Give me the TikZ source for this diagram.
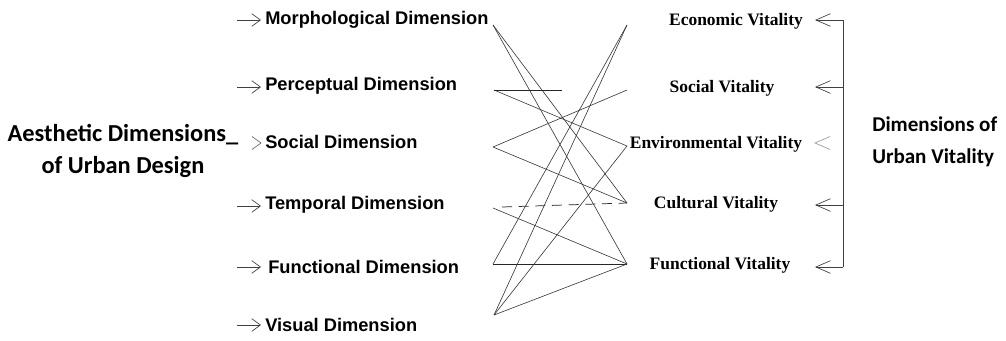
\documentclass[tikz,border=0pt]{standalone}
\usepackage{fontspec}
\setmainfont{Liberation Serif}
\newfontfamily\lsans{Liberation Sans}
\newfontfamily\calib{Carlito}
\usetikzlibrary{arrows.meta,calc}
\begin{document}
\begin{tikzpicture}[x=0.75pt,y=-0.75pt,
  lbl/.style={font=\lsans\bfseries\fontsize{13.7}{16}\selectfont, anchor=west, inner sep=0pt},
  rlbl/.style={font=\bfseries\fontsize{13.1}{15}\selectfont, inner sep=0pt},
  ttl/.style={font=\calib\bfseries\fontsize{18.3}{24}\selectfont, align=center, inner sep=0pt},
  rttl/.style={font=\calib\bfseries\fontsize{15.8}{24}\selectfont, align=left, anchor=west, inner sep=0pt},
  larr/.style={draw=black!75, line width=0.5pt, -{Straight Barb[length=6.5pt,width=9.5pt,line width=0.5pt]}},
  rarr/.style={draw=black!75, line width=0.5pt, -{Straight Barb[length=11pt,width=9.5pt,line width=0.5pt]}},
  link/.style={draw=black!80, line width=0.45pt},
  dlink/.style={draw=black!85, line width=0.55pt, dash pattern=on 7.5pt off 5pt}
]
\useasboundingbox (0,0) rectangle (1006,340);

% titles
\node[ttl] (aes) at (123,151) {Aesthetic Dimensions\_\\of Urban Design};
\node[rttl] (urb) at (872,142) {Dimensions of\\Urban Vitality};

% left labels
\node[lbl] (morph) at (265,20) {Morphological Dimension};
\node[lbl] (perc)  at (265,86) {Perceptual Dimension};
\node[lbl] (soc)   at (265,142) {Social Dimension};
\node[lbl] (temp)  at (265,205) {Temporal Dimension};
\node[lbl] (func)  at (268,267) {Functional Dimension};
\node[lbl] (vis)   at (265,325) {Visual Dimension};

% left arrows
\coordinate (a1) at (237,20);  \coordinate (h1) at (261,20);
\coordinate (a2) at (237,87);  \coordinate (h2) at (261,87);
\coordinate (a4) at (237,206); \coordinate (h4) at (261,206);
\coordinate (a5) at (237,267); \coordinate (h5) at (261,267);
\coordinate (a6) at (237,325); \coordinate (h6) at (261,325);
\draw[larr] (a1) -- (h1);
\draw[larr] (a2) -- (h2);
\draw[larr] (a4) -- (h4);
\draw[larr] (a5) -- (h5);
\draw[larr] (a6) -- (h6);
\coordinate (h3) at (261,143);
\draw[draw=black!60, line width=0.5pt] ($(h3)+(-9,-6.5)$) -- (h3) -- ($(h3)+(-9,6.5)$);

% right labels
\node[rlbl] (eco) at (736,21) {Economic Vitality};
\node[rlbl] (svi) at (722,88) {Social Vitality};
\node[rlbl] (env) at (716,144) {Environmental Vitality};
\node[rlbl] (cul) at (716,204) {Cultural Vitality};
\node[rlbl] (fvi) at (720,265) {Functional Vitality};

% right arrows and bar
\coordinate (b1) at (843,20);  \coordinate (t1) at (815,20);
\coordinate (b2) at (843,87);  \coordinate (t2) at (815,87);
\coordinate (b4) at (843,205); \coordinate (t4) at (815,205);
\coordinate (b5) at (843,267); \coordinate (t5) at (815,267);
\coordinate (t3) at (815,143);
\draw[draw=black!75, line width=0.5pt] (b1) -- (b5);
\draw[rarr] (b1) -- (t1);
\draw[rarr] (b2) -- (t2);
\draw[rarr] (b4) -- (t4);
\draw[rarr] (b5) -- (t5);
\draw[draw=black!40, line width=0.5pt] ($(t3)+(15,-6.5)$) -- (t3) -- ($(t3)+(15,6.5)$);

% middle endpoints
\coordinate (M) at (493,25);
\coordinate (P) at (494,90);
\coordinate (Pst) at (562,90);
\coordinate (S) at (493,147);
\coordinate (T) at (493,208);
\coordinate (Td) at (502,207);
\coordinate (F) at (493,264);
\coordinate (V) at (494,315);
\coordinate (E) at (627,25);
\coordinate (So) at (627,90);
\coordinate (En) at (627,146);
\coordinate (C) at (627,203);
\coordinate (Fu) at (627,264);

% links
\draw[link] (M) -- (C);
\draw[link] (M) -- (Fu);
\draw[link, draw=black!85] (P) -- (Pst);
\draw[link] (P) -- (En);
\draw[link] (S) -- (So);
\draw[link] (S) -- (C);
\draw[dlink] (Td) -- (C);
\draw[link] (T) -- (Fu);
\draw[link, draw=black!85, line width=0.6pt] (F) -- (Fu);
\draw[link] (F) -- (E);
\draw[link] (V) -- (Fu);
\draw[link] (V) -- (E);
\draw[link] (V) -- (En);
\end{tikzpicture}
\end{document}
